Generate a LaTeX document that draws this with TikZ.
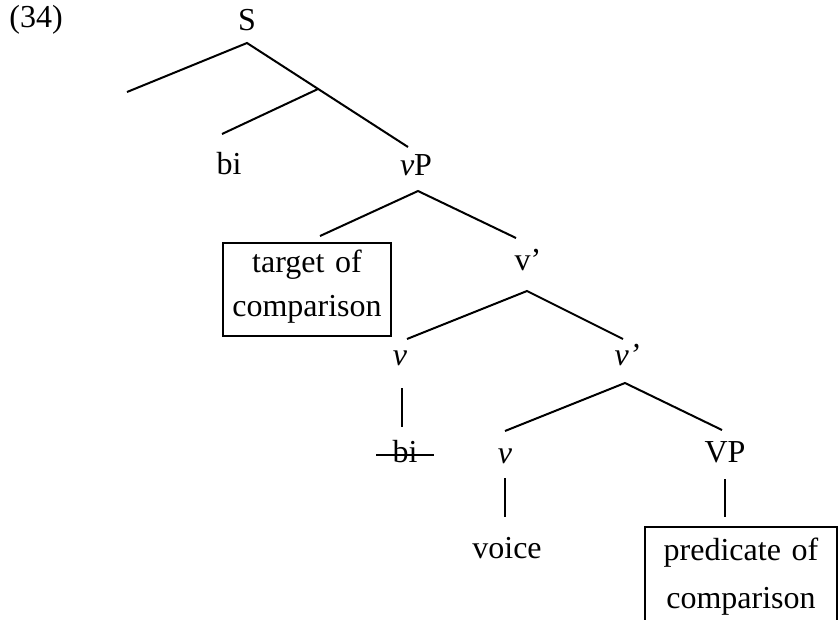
\documentclass[tikz,border=0pt]{standalone}
\usepackage{fontspec}
\setmainfont{Liberation Serif}
\usepackage{tikz}
\usetikzlibrary{positioning}
\tikzstyle{lbl} = [anchor=base, inner sep=0pt, font=\fontsize{12}{16.5}\selectfont]
\tikzstyle{branch} = [-, line width=0.75pt]
\tikzstyle{cbox} = [draw, line width=0.75pt, anchor=base, inner sep=0pt, align=center, font=\fontsize{12}{16.5}\selectfont]

\begin{document}
\begin{tikzpicture}[x=0.375pt, y=-0.375pt]
\useasboundingbox (0,0) rectangle (840,619);
\clip (0,0) rectangle (840,619);
\node [lbl] (ex) at (36,27) {(34)};
\node [lbl] (S) at (247,30) {S};
\node [lbl] (bi) at (229,174) {bi};
\node [lbl] (vP) at (416,175) {\textit{v}P};
\node [cbox, text width=63pt, text height=10.9pt, text depth=24pt] (target) at (307,272) {target of\\comparison};
\node [lbl] (vbar) at (528,270) {v’};
\node [lbl] (v) at (400,365) {\textit{v}};
\node [lbl] (vbarB) at (627,365) {\textit{v’}};
\node [lbl, inner xsep=6pt] (bicopy) at (405,462) {bi};
\node [lbl] (vvoice) at (505,463) {\textit{v}};
\node [lbl] (VP) at (725,462) {VP};
\node [lbl] (voice) at (507,558) {voice};
\node [cbox, font=\fontsize{12}{18}\selectfont, text width=72pt, text height=12.4pt, text depth=37.5pt] (pred) at (741,560) {predicate of\\comparison};
% branch points
\coordinate (S-top) at (247,43);
\coordinate (S-left) at (127,92);
\coordinate (S-right) at (408,147);
\coordinate (S-mid) at (318,89);
\coordinate (bi-top) at (222,134);
\coordinate (vP-top) at (418,191);
\coordinate (vP-left) at (320,236);
\coordinate (vP-right) at (516,238);
\coordinate (vbar-top) at (527,291);
\coordinate (vbar-left) at (407,339);
\coordinate (vbar-right) at (623,339);
\coordinate (v-low) at (402,388);
\coordinate (bicopy-top) at (402,427);
\coordinate (vbarB-top) at (625,383);
\coordinate (vbarB-left) at (505,431);
\coordinate (vbarB-right) at (722,430);
\coordinate (vvoice-low) at (505,478);
\coordinate (voice-top) at (505,517);
\coordinate (VP-low) at (725,479);
\coordinate (pred-top) at (725,517);
\draw [branch] (S-left) -- (S-top) -- (S-right);
\draw [branch] (S-mid) -- (bi-top);
\draw [branch] (vP-left) -- (vP-top) -- (vP-right);
\draw [branch] (vbar-left) -- (vbar-top) -- (vbar-right);
\draw [branch] (v-low) -- (bicopy-top);
\draw [branch] (vbarB-left) -- (vbarB-top) -- (vbarB-right);
\draw [branch] (vvoice-low) -- (voice-top);
\draw [branch] (VP-low) -- (pred-top);
\draw [line width=0.7pt] ([yshift=2.6pt]bicopy.base west) -- ([yshift=2.6pt]bicopy.base east);
\end{tikzpicture}
\end{document}
